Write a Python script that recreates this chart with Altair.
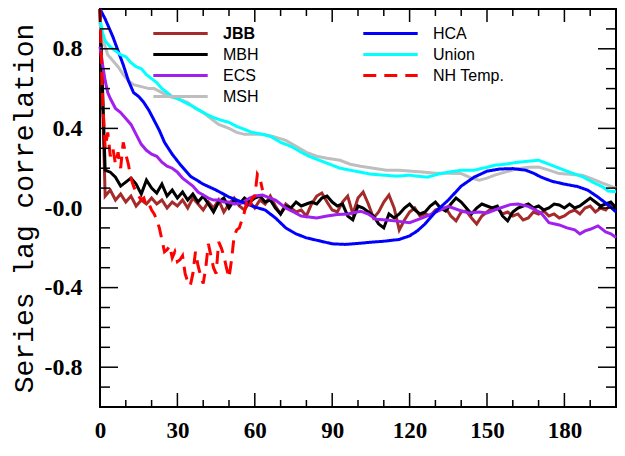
import altair as alt
import pandas as pd

# ---------------- data ----------------
lag2 = list(range(0, 201, 2))

jbb = [1.0, 0.06, 0.09, 0.04, 0.07, 0.03, 0.06, 0.01, 0.04, 0.02,
       0.05, 0.02, 0.04, 0.0, 0.03, 0.01, 0.04, 0.0, 0.05, 0.02,
       -0.01, 0.03, 0.0, 0.04, -0.02, 0.02, 0.05, 0.01, -0.01, 0.03,
       0.0, 0.04, 0.02, 0.06, 0.01, -0.03, 0.02, 0.0, -0.02, -0.01,
       -0.04, 0.02, 0.06, 0.075, 0.03, -0.01, -0.02, 0.03, 0.06, -0.03,
       0.05, 0.08, 0.02, -0.05, -0.02, 0.03, 0.065, 0.0, -0.11, -0.06,
       -0.02, 0.0, -0.04, -0.03, -0.04, -0.01, 0.0, 0.0, -0.04, -0.065,
       -0.02, -0.015, -0.05, -0.08, -0.04, -0.02, 0.0, 0.0, -0.03, -0.02,
       -0.04, -0.03, -0.06, -0.05, -0.02, -0.03, -0.015, -0.04, -0.03, -0.05,
       -0.04, -0.02, -0.01, -0.03, 0.0, 0.01, -0.02, 0.0, -0.01, 0.02,
       0.0]

mbh = [1.0, 0.19, 0.18, 0.155, 0.11, 0.13, 0.15, 0.12, 0.07, 0.14,
       0.10, 0.075, 0.12, 0.06, 0.09, 0.05, 0.08, 0.04, 0.07, 0.03,
       0.06, 0.02, -0.02, 0.03, 0.05, 0.0, 0.04, 0.02, 0.05, 0.03,
       0.05, 0.06, 0.03, 0.04, 0.0, -0.03, 0.01, 0.0, 0.03, 0.01,
       0.02, 0.03, 0.02, 0.05, 0.06, 0.03, 0.01, 0.02, -0.04, -0.06,
       0.01, 0.0, -0.02, -0.04, -0.08, -0.10, -0.03, -0.05, -0.03, 0.0,
       0.02, -0.01, -0.03, -0.02, 0.01, 0.03, 0.0, -0.015, 0.02, 0.05,
       0.03, 0.0, -0.03, 0.0, 0.02, 0.01, 0.0, 0.01, -0.04, -0.065,
       -0.02, 0.0, 0.01, 0.02, 0.0, 0.01, -0.01, 0.0, 0.02, 0.015,
       0.0, 0.02, 0.0, 0.01, 0.03, 0.05, 0.03, 0.01, 0.02, 0.03,
       0.0]

ecs_lag = [0, 1, 2, 3, 4, 6, 8, 10, 12, 14, 16, 18, 20, 22, 24, 26, 28, 30, 32, 34,
           36, 38, 40, 42, 44, 46, 48, 50, 52, 55, 58, 60, 63, 66, 68, 70, 72, 75, 78, 81,
           84, 88, 92, 96, 101, 104, 107, 111, 115, 120, 125, 128, 131, 135, 139, 143, 147, 150, 154, 159,
           162, 166, 171, 174, 178, 181, 184, 186, 188, 190, 193, 196, 198, 200]
ecs_val = [0.81, 0.72, 0.64, 0.58, 0.55, 0.50, 0.48, 0.45, 0.42, 0.37, 0.32, 0.29, 0.27, 0.26, 0.23, 0.21, 0.20, 0.18, 0.15, 0.13,
           0.11, 0.08, 0.065, 0.05, 0.04, 0.04, 0.03, 0.03, 0.02, 0.025, 0.05, 0.06, 0.065, 0.05, 0.04, 0.02, 0.0, -0.02, -0.04, -0.045,
           -0.05, -0.04, -0.033, -0.03, -0.016, -0.03, -0.057, -0.06, -0.066, -0.074, -0.05, -0.033, -0.016, 0.008, -0.01, -0.025, -0.02, -0.025, -0.005, 0.017,
           0.02, 0.008, -0.025, -0.074, -0.085, -0.1, -0.11, -0.13, -0.115, -0.107, -0.09, -0.12, -0.13, -0.148]

msh_lag = [0, 1, 3, 5, 7, 9, 11, 13, 16, 19, 21, 24, 27, 30, 34, 37, 40, 43, 46, 50,
           53, 56, 60, 63, 67, 72, 76, 80, 84, 88, 93, 97, 101, 106, 111, 116, 121, 126, 130, 135,
           140, 144, 147, 150, 153, 157, 162, 166, 170, 174, 178, 182, 187, 191, 195, 200]
msh_val = [0.93, 0.85, 0.77, 0.74, 0.71, 0.67, 0.64, 0.62, 0.61, 0.60, 0.60, 0.58, 0.56, 0.55, 0.53, 0.50, 0.48, 0.45, 0.42, 0.40,
           0.38, 0.37, 0.37, 0.37, 0.36, 0.34, 0.31, 0.28, 0.26, 0.25, 0.24, 0.22, 0.21, 0.20, 0.19, 0.19, 0.185, 0.18, 0.175, 0.175,
           0.173, 0.15, 0.14, 0.15, 0.165, 0.18, 0.198, 0.205, 0.206, 0.19, 0.173, 0.17, 0.165, 0.145, 0.124, 0.10]

hca_lag = [0, 2, 5, 7, 9, 11, 13, 15, 17, 19, 21, 23, 25, 28, 31, 35, 40, 45, 50, 55,
           60, 64, 68, 72, 76, 80, 85, 90, 95, 100, 105, 110, 116, 120, 123, 126, 130, 135, 140, 145,
           150, 155, 160, 165, 168, 171, 175, 180, 185, 189, 193, 197, 200]
hca_val = [1.0, 0.95, 0.86, 0.79, 0.72, 0.64, 0.58, 0.56, 0.53, 0.49, 0.44, 0.39, 0.33, 0.27, 0.22, 0.16, 0.12, 0.09, 0.055, 0.03,
           0.005, -0.01, -0.05, -0.10, -0.13, -0.15, -0.165, -0.18, -0.183, -0.178, -0.172, -0.167, -0.158, -0.14, -0.115, -0.08, -0.02, 0.04, 0.11, 0.155,
           0.185, 0.196, 0.198, 0.19, 0.175, 0.155, 0.135, 0.12, 0.108, 0.09, 0.055, 0.015, -0.02]

uni_lag = [0, 1, 2, 4, 6, 8, 10, 12, 14, 16, 18, 20, 22, 24, 26, 28, 30, 33, 36, 40,
           43, 46, 50, 53, 56, 59, 63, 66, 70, 74, 78, 81, 85, 89, 93, 97, 101, 105, 110, 115,
           120, 123, 127, 131, 135, 140, 145, 150, 153, 157, 162, 166, 170, 174, 178, 182, 187, 191, 195, 197, 200]
uni_val = [0.95, 0.88, 0.84, 0.81, 0.79, 0.77, 0.76, 0.73, 0.71, 0.70, 0.67, 0.65, 0.63, 0.60, 0.58, 0.56, 0.55, 0.53, 0.51, 0.48,
           0.46, 0.445, 0.43, 0.41, 0.395, 0.38, 0.37, 0.36, 0.33, 0.31, 0.28, 0.26, 0.24, 0.22, 0.20, 0.19, 0.18, 0.17, 0.165, 0.16,
           0.165, 0.16, 0.155, 0.17, 0.18, 0.19, 0.19, 0.205, 0.215, 0.22, 0.23, 0.235, 0.24, 0.22, 0.20, 0.18, 0.157, 0.13, 0.105, 0.085, 0.082]

nh_lag = list(range(0, 64))
nh_val = [1.0, 0.55, 0.30, 0.38, 0.26, 0.30, 0.22, 0.28, 0.20, 0.33,
          0.27, 0.22, 0.15, 0.11, 0.08, 0.06, 0.04, 0.05, 0.01, 0.02,
          -0.01, -0.03, -0.06, -0.10, -0.16, -0.22, -0.21, -0.19, -0.25, -0.22,
          -0.27, -0.26, -0.24, -0.33, -0.37, -0.39, -0.33, -0.22, -0.29, -0.34,
          -0.38, -0.30, -0.18, -0.24, -0.30, -0.33, -0.17, -0.20, -0.24, -0.30,
          -0.35, -0.26, -0.14, -0.11, -0.10, -0.06, -0.02, 0.04, 0.01, 0.05,
          0.06, 0.17, 0.15, 0.09]

names1 = ["JBB", "MBH", "ECS", "MSH"]
colors1 = ["#A52A2A", "#000000", "#A020F0", "#BEBEBE"]
names2 = ["HCA", "Union", "NH Temp."]
colors2 = ["#0000FF", "#00FFFF", "#FF0000"]
dashes2 = [[1, 0], [1, 0], [13, 8]]

x_major = [0, 30, 60, 90, 120, 150, 180]
x_minor = [10, 20, 40, 50, 70, 80, 100, 110, 130, 140, 160, 170, 190]
y_major = [-0.8, -0.4, 0.0, 0.4, 0.8]
y_minor = [-0.9, -0.7, -0.6, -0.5, -0.3, -0.2, -0.1, 0.1, 0.2, 0.3, 0.5, 0.6, 0.7, 0.9]


def long(name, lags, vals):
    n = min(len(lags), len(vals))
    return pd.DataFrame({"lag": lags[:n], "value": vals[:n], "series": name})


df1 = pd.concat([long("JBB", lag2, jbb), long("MBH", lag2, mbh),
                 long("ECS", ecs_lag, ecs_val), long("MSH", msh_lag, msh_val)], ignore_index=True)
df2 = pd.concat([long("HCA", hca_lag, hca_val), long("Union", uni_lag, uni_val),
                 long("NH Temp.", nh_lag, nh_val)], ignore_index=True)

# ---------------- chart ----------------
W, H = 516, 398
xscale = alt.Scale(domain=[0, 200], nice=False, zero=False)
yscale = alt.Scale(domain=[-1, 1], nice=False, zero=False)

xaxis = alt.Axis(values=x_major, title=None, grid=False, domain=False, ticks=False, tickSize=0,
                 labelFont="Liberation Serif", labelFontWeight="bold", labelFontSize=23,
                 labelColor="black", labelPadding=12, format="d", labelFlush=False)
yaxis = alt.Axis(values=y_major, title="Series lag correlation", grid=False, domain=False,
                 ticks=False, tickSize=0,
                 labelFont="Liberation Serif", labelFontWeight="bold", labelFontSize=24,
                 labelColor="black", labelPadding=18, labelFlush=False,
                 labelExpr="datum.value == 0 ? '-0.0' : (datum.value < 0 ? '-' + format(-datum.value, '.1f') : format(datum.value, '.1f'))",
                 titleFont="Liberation Mono", titleFontSize=28, titleFontWeight="normal",
                 titleColor="black", titleX=-68, titleY=H / 2, titleBaseline="alphabetic",
                 titleAlign="center")

leg_common = dict(title=None, orient="none", symbolType="M-3.4,0H3.4", symbolSize=256,
                  symbolStrokeWidth=3, labelFont="Liberation Sans", labelFontSize=16,
                  labelColor="black", labelOffset=33, rowPadding=3, padding=0,
                  direction="vertical")
leg1 = alt.Legend(legendX=71, legendY=15,
                  labelFontWeight=alt.ExprRef("datum.label == 'JBB' ? 'bold' : 'normal'"),
                  **leg_common)
leg2 = alt.Legend(legendX=281, legendY=15, **leg_common)

lines1 = alt.Chart(df1).mark_line(strokeWidth=3).encode(
    x=alt.X("lag:Q", scale=xscale, axis=xaxis),
    y=alt.Y("value:Q", scale=yscale, axis=yaxis),
    color=alt.Color("series:N", scale=alt.Scale(domain=names1, range=colors1), legend=leg1),
)
lines2 = alt.Chart(df2).mark_line(strokeWidth=3).encode(
    x=alt.X("lag:Q", scale=xscale, axis=xaxis),
    y=alt.Y("value:Q", scale=yscale, axis=yaxis),
    color=alt.Color("series:N", scale=alt.Scale(domain=names2, range=colors2), legend=leg2),
    strokeDash=alt.StrokeDash("series:N", scale=alt.Scale(domain=names2, range=dashes2), legend=leg2),
)


def xticks(vals, y0, y1):
    return alt.Chart(pd.DataFrame({"lag": vals})).mark_rule(color="black", strokeWidth=1.5).encode(
        x=alt.X("lag:Q", scale=xscale, axis=xaxis), y=alt.value(y0), y2=alt.value(y1))


def yticks(vals, x0, x1):
    return alt.Chart(pd.DataFrame({"value": vals})).mark_rule(color="black", strokeWidth=1.5).encode(
        y=alt.Y("value:Q", scale=yscale, axis=yaxis), x=alt.value(x0), x2=alt.value(x1))


tick_layers = [
    xticks(x_major, H, H - 14), xticks(x_minor, H, H - 7),
    xticks(x_major, 0, 13), xticks(x_minor, 0, 7),
    yticks(y_major, 0, 18), yticks(y_minor, 0, 10),
    yticks(y_major, W, W - 18), yticks(y_minor, W, W - 10),
]

chart = alt.layer(lines1, lines2, *tick_layers).resolve_scale(
    color="independent", strokeDash="independent"
).properties(
    width=W, height=H,
    padding={"left": 92, "top": 1, "right": 1, "bottom": 36},
    autosize=alt.AutoSizeParams(type="none"),
    background="white",
).configure_view(stroke="black", strokeWidth=2)

chart.save("out.html", embed_options={"renderer": "svg", "actions": False})
